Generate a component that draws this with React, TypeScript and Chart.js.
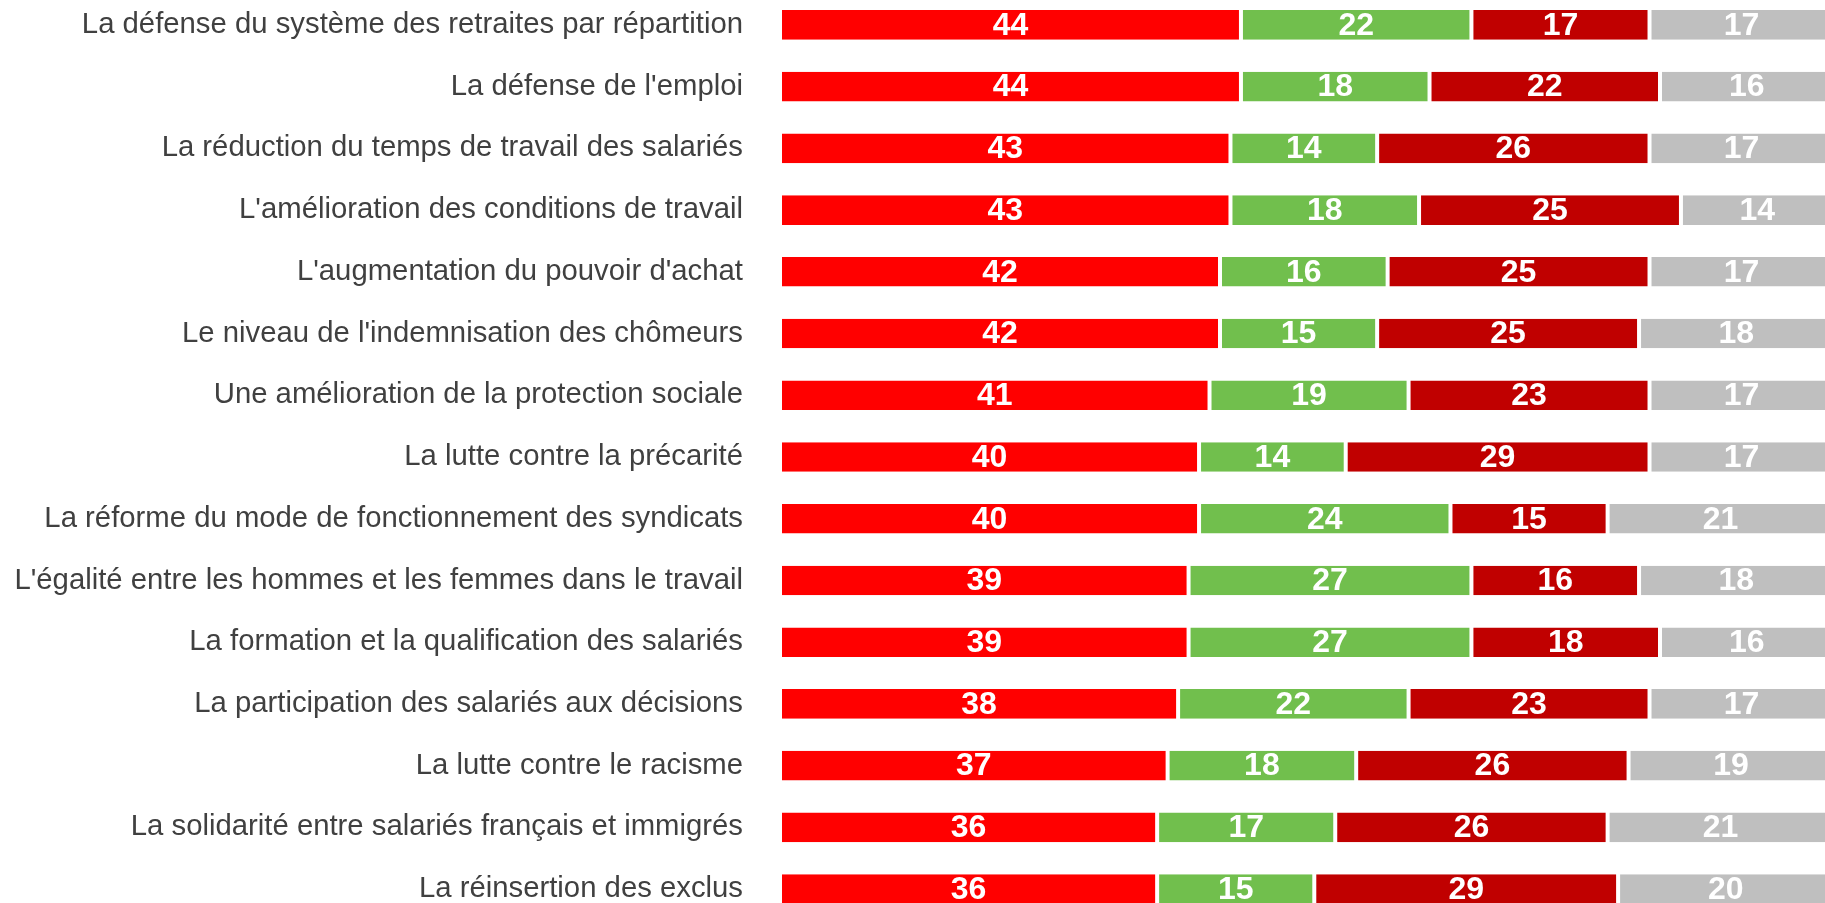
import React, { useEffect, useRef } from "react";
import { Chart, registerables } from "chart.js";

Chart.register(...registerables);

const categories = [
  "La défense du système des retraites par répartition",
  "La défense de l'emploi",
  "La réduction du temps de travail des salariés",
  "L'amélioration des conditions de travail",
  "L'augmentation du pouvoir d'achat",
  "Le niveau de l'indemnisation des chômeurs",
  "Une amélioration de la protection sociale",
  "La lutte contre la précarité",
  "La réforme du mode de fonctionnement des syndicats",
  "L'égalité entre les hommes et les femmes dans le travail",
  "La formation et la qualification des salariés",
  "La participation des salariés aux décisions",
  "La lutte contre le racisme",
  "La solidarité entre salariés français et immigrés",
  "La réinsertion des exclus",
];

const seriesNames = ["Série 1", "Série 2", "Série 3", "Série 4"];

const series1 = [44, 44, 43, 43, 42, 42, 41, 40, 40, 39, 39, 38, 37, 36, 36];
const series2 = [22, 18, 14, 18, 16, 15, 19, 14, 24, 27, 27, 22, 18, 17, 15];
const series3 = [17, 22, 26, 25, 25, 25, 23, 29, 15, 16, 18, 23, 26, 26, 29];
const series4 = [17, 16, 17, 14, 17, 18, 17, 17, 21, 18, 16, 17, 19, 21, 20];

const seriesColors = ["#FF0000", "#71BF4D", "#C00000", "#BFBFBF"];

const valueLabels = {
  id: "valueLabels",
  afterDatasetsDraw(chart: any) {
    const ctx = chart.ctx;
    const right = chart.chartArea.right;
    ctx.save();
    ctx.font = "bold 32px 'Liberation Sans', Arial, sans-serif";
    ctx.fillStyle = "#FFFFFF";
    ctx.textAlign = "center";
    ctx.textBaseline = "middle";
    chart.data.datasets.forEach((ds: any, di: number) => {
      const meta = chart.getDatasetMeta(di);
      meta.data.forEach((el: any, i: number) => {
        const p = el.getProps(["x", "base", "y"], true);
        const x1 = Math.max(p.x, p.base);
        const x0 = Math.min(p.x, p.base);
        const cx = (x0 + x1) / 2 + (x1 > right ? 3 : 0);
        ctx.fillText(String(ds.data[i]), cx, p.y + 1);
      });
    });
    ctx.restore();
  },
};

export default function App() {
  const ref = useRef<HTMLCanvasElement | null>(null);

  useEffect(() => {
    if (!ref.current) return;
    const all = [series1, series2, series3, series4];
    const chart = new Chart(ref.current, {
      type: "bar",
      data: {
        labels: categories,
        datasets: all.map((d, i) => ({
          label: seriesNames[i],
          data: d,
          backgroundColor: seriesColors[i],
          borderColor: "#FFFFFF",
          borderWidth: { left: 2, right: 2, top: 0, bottom: 0 },
          borderSkipped: false,
          barPercentage: 1,
          categoryPercentage: 0.48,
        })),
      },
      options: {
        indexAxis: "y",
        responsive: false,
        animation: false,
        devicePixelRatio: 1,
        layout: { padding: 0 },
        plugins: {
          legend: { display: false },
          tooltip: { enabled: false },
        },
        scales: {
          x: {
            stacked: true,
            min: 0,
            max: 99.75,
            display: false,
          },
          y: {
            stacked: true,
            grid: { display: false, drawTicks: true, tickLength: 37, tickColor: "rgba(0,0,0,0)" },
            border: { display: false },
            ticks: {
              padding: 0,
              color: "#404040",
              font: { family: "'Liberation Sans', Arial, sans-serif", size: 29.3 },
            },
            afterFit: (s: any) => {
              s.width = 780;
              s.paddingTop = 0;
              s.paddingBottom = 0;
            },
          },
        },
      },
      plugins: [valueLabels],
    });
    return () => chart.destroy();
  }, []);

  return (
    <div
      style={{
        position: "fixed",
        left: 0,
        top: 0,
        width: 1825,
        height: 903,
        overflow: "hidden",
        background: "#FFFFFF",
      }}
    >
      <div style={{ position: "absolute", left: 0, top: -6, width: 1825, height: 926 }}>
        <canvas ref={ref} width={1825} height={926} style={{ width: 1825, height: 926 }} />
      </div>
    </div>
  );
}
